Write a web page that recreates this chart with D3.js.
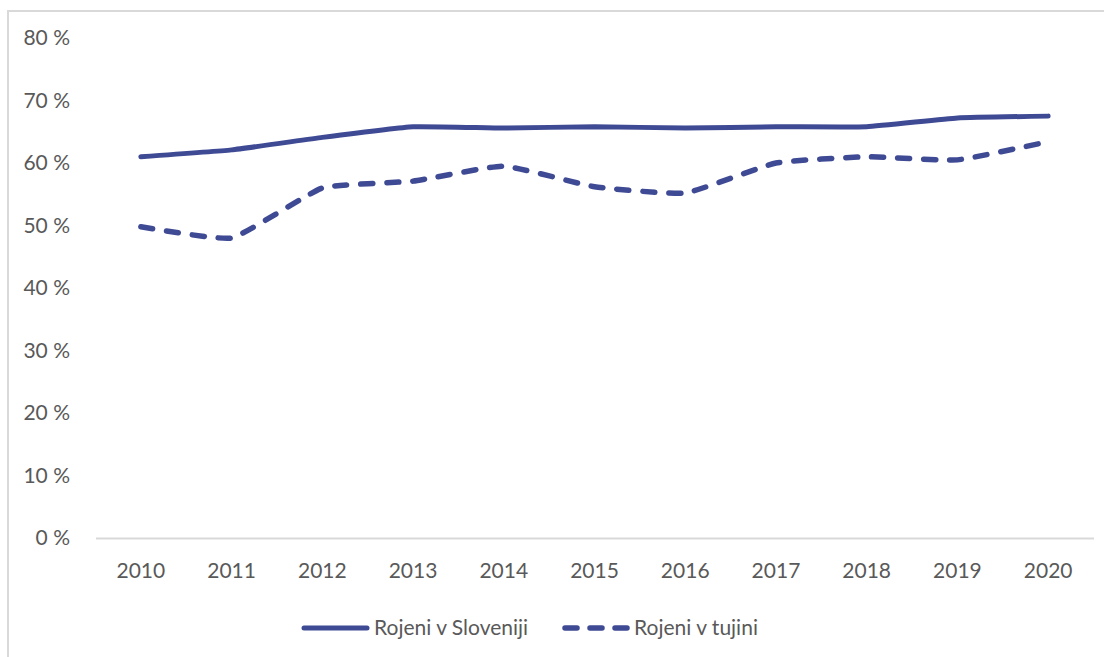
<!DOCTYPE html>
<html><head><meta charset="utf-8">
<script src="https://cdn.jsdelivr.net/npm/d3@7"></script>
<style>body{margin:0;background:#fff}svg{display:block}text{font-family:Lato,"Open Sans",sans-serif;fill:#595959}</style>
</head><body>
<svg id="c" width="1104" height="657"></svg>
<script>
const years = ["2010","2011","2012","2013","2014","2015","2016","2017","2018","2019","2020"];
const slovenija = [61.0,62.1,64.1,65.8,65.6,65.8,65.6,65.8,65.8,67.2,67.5];
const tujina = [49.8,48.0,56.0,57.1,59.5,56.2,55.2,60.0,61.0,60.5,63.4];
const yTicks = [0,10,20,30,40,50,60,70,80];
const seriesNames = ["Rojeni v Sloveniji","Rojeni v tujini"];

const svg = d3.select("#c");
const color = "#3f4a94";
svg.append("rect").attr("x",8).attr("y",11).attr("width",1120).attr("height",680)
  .attr("fill","none").attr("stroke","#d9d9d9").attr("stroke-width",2);

const x = d3.scaleBand().domain(years).range([95.5,1093.5]);
const y = d3.scaleLinear().domain([0,80]).range([538,38]);

// y labels
const yAxis = d3.axisLeft(y).tickValues(yTicks).tickSize(0).tickPadding(0).tickFormat(d=>d+" %");
const gy = svg.append("g").attr("transform","translate(70,0)").call(yAxis);
gy.select(".domain").remove();
gy.selectAll("text").attr("font-size",21).attr("fill","#595959").style("font-family","Lato");

// x axis
const xAxis = d3.axisBottom(x).tickSize(0).tickPadding(25);
const gx = svg.append("g").attr("transform","translate(0,538)").call(xAxis);
gx.select(".domain").attr("stroke","#d9d9d9").attr("stroke-width",2);
gx.selectAll("text").attr("font-size",21).attr("fill","#595959").style("font-family","Lato");

const line = d3.line().x((d,i)=>x(years[i])+x.bandwidth()/2).y(d=>y(d)).curve(d3.curveCardinal.tension(0.6));
svg.append("path").datum(slovenija).attr("d",line).attr("fill","none").attr("stroke",color)
  .attr("stroke-width",5).attr("stroke-linecap","round").attr("stroke-linejoin","round");
svg.append("path").datum(tujina).attr("d",line).attr("fill","none").attr("stroke",color)
  .attr("stroke-width",5.5).attr("stroke-linecap","round").attr("stroke-linejoin","round")
  .attr("stroke-dasharray","12,14");

// legend
const lg = svg.append("g");
lg.append("line").attr("x1",304).attr("x2",367).attr("y1",628).attr("y2",628).attr("stroke",color).attr("stroke-width",5).attr("stroke-linecap","round");
lg.append("text").attr("x",374).attr("y",628).attr("dy","0.35em").attr("font-size",21).text(seriesNames[0]);
lg.append("line").attr("x1",565).attr("x2",627).attr("y1",628).attr("y2",628).attr("stroke",color).attr("stroke-width",5.5).attr("stroke-linecap","round").attr("stroke-dasharray","12,13");
lg.append("text").attr("x",634).attr("y",628).attr("dy","0.35em").attr("font-size",21).text(seriesNames[1]);
</script>
</body></html>
